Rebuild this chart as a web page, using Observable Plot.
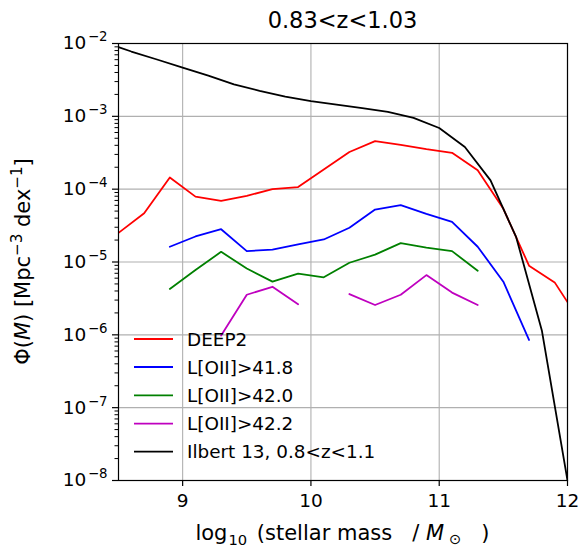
<!DOCTYPE html>
<html><head><meta charset="utf-8">
<script src="https://cdn.jsdelivr.net/npm/d3@7"></script>
<script src="https://cdn.jsdelivr.net/npm/@observablehq/plot@0.6"></script>
<style>body{margin:0;background:#fff}</style>
</head><body><div id="chart"></div>
<script>
// ---- data ----
const deepX = [8.5, 8.7, 8.9, 9.1, 9.3, 9.5, 9.7, 9.9, 10.1, 10.3, 10.5, 10.7, 10.9, 11.1, 11.3, 11.5, 11.7, 11.9, 12.0];
const deepY = [2.51e-5, 4.68e-5, 1.45e-4, 7.9e-5, 6.9e-5, 8.1e-5, 1.0e-4, 1.07e-4, 1.86e-4, 3.24e-4, 4.57e-4, 4.07e-4, 3.55e-4, 3.16e-4, 1.82e-4, 5.37e-5, 8.9e-6, 5.25e-6, 2.82e-6];

const l418X = [8.9, 9.1, 9.3, 9.5, 9.7, 9.9, 10.1, 10.3, 10.5, 10.7, 10.9, 11.1, 11.3, 11.5, 11.7];
const l418Y = [1.62e-5, 2.24e-5, 2.82e-5, 1.41e-5, 1.48e-5, 1.74e-5, 2.04e-5, 2.95e-5, 5.25e-5, 6.03e-5, 4.57e-5, 3.55e-5, 1.62e-5, 5.37e-6, 8.5e-7];

const l420X = [8.9, 9.1, 9.3, 9.5, 9.7, 9.9, 10.1, 10.3, 10.5, 10.7, 10.9, 11.1, 11.3];
const l420Y = [4.27e-6, 7.76e-6, 1.38e-5, 8.13e-6, 5.37e-6, 6.92e-6, 6.17e-6, 9.77e-6, 1.26e-5, 1.82e-5, 1.58e-5, 1.41e-5, 7.59e-6];

const l422X = [9.3, 9.5, 9.7, 9.9, 10.1, 10.3, 10.5, 10.7, 10.9, 11.1, 11.3];
const l422Y = [9.8e-7, 3.55e-6, 4.57e-6, 2.63e-6, NaN, 3.63e-6, 2.57e-6, 3.55e-6, 6.61e-6, 3.80e-6, 2.57e-6];

const ilbX = [8.5, 8.6, 8.8, 9.0, 9.2, 9.4, 9.6, 9.8, 10.0, 10.2, 10.4, 10.6, 10.8, 11.0, 11.2, 11.4, 11.6, 11.8, 12.0];
const ilbY = [8.91e-3, 7.76e-3, 6.03e-3, 4.68e-3, 3.63e-3, 2.75e-3, 2.24e-3, 1.86e-3, 1.62e-3, 1.45e-3, 1.30e-3, 1.15e-3, 9.55e-4, 6.92e-4, 3.80e-4, 1.32e-4, 2.19e-5, 1.15e-6, 1.0e-8];

const seriesNames = ["DEEP2", "L[OII]>41.8", "L[OII]>42.0", "L[OII]>42.2", "Ilbert 13, 0.8<z<1.1"];
const seriesColors = ["#ff0000", "#0000ff", "#008000", "#bf00bf", "#000000"];

const xTicks = [9, 10, 11, 12];
const yTicks = [1e-8, 1e-7, 1e-6, 1e-5, 1e-4, 1e-3, 1e-2];
const yMinor = [];
for (let e = -8; e < -2; e++) for (let m = 2; m <= 9; m++) yMinor.push(m * Math.pow(10, e));

const titleText = "0.83<z<1.03";

// ---- build ----
const series = [[deepX, deepY], [l418X, l418Y], [l420X, l420Y], [l422X, l422Y], [ilbX, ilbY]];
const toRows = (xs, ys) => xs.map((x, i) => ({x, y: ys[i]}));

const font = "DejaVu Sans, Verdana, sans-serif";
const tickFont = 18.5, labelFont = 21, legendFont = 18.4, titleFont = 22.5;
const chart = Plot.plot({
  width: 579, height: 549,
  marginLeft: 118, marginRight: 12, marginTop: 43, marginBottom: 69,
  style: {fontFamily: font, fontSize: tickFont + "px", color: "#000", background: "#fff", overflow: "visible"},
  x: {domain: [8.5, 12]},
  y: {type: "log", domain: [1e-8, 1e-2]},
  marks: [
    Plot.gridX(xTicks, {stroke: "#b0b0b0", strokeOpacity: 1, strokeWidth: 1.1}),
    Plot.gridY(yTicks, {stroke: "#b0b0b0", strokeOpacity: 1, strokeWidth: 1.1}),
    ...series.map(([xs, ys], i) => Plot.line(toRows(xs, ys), {
      x: "x", y: "y", stroke: seriesColors[i], strokeWidth: 1.8, clip: true
    })),
    Plot.frame({stroke: "#000", strokeWidth: 1.2}),
    Plot.axisX(xTicks, {tickSize: 6, tickPadding: 7, label: null, fontSize: tickFont, tickFormat: d => String(d), strokeWidth: 1.2}),
    Plot.axisY(yTicks, {tickSize: 6, tickPadding: 5, label: null, fontSize: tickFont, tickFormat: d => String(Math.round(Math.log10(d))), strokeWidth: 1.2}),
    Plot.axisY(yMinor, {tickSize: 3.5, label: null, tickFormat: () => "", strokeWidth: 1})
  ]
});
document.getElementById("chart").append(chart);

const svg = d3.select(chart);
// superscripted y tick labels (major only; drop empty minor labels)
svg.selectAll('g[aria-label="y-axis tick label"] text').each(function() {
  const t = d3.select(this);
  const e = t.text();
  if (!e) { t.remove(); return; }
  t.text("");
  t.append("tspan").text("10");
  t.append("tspan").attr("font-size", "72%").attr("dx", 1.5).attr("dy", "-0.6em").text(e.replace("-", "\u2212"));
});

// title
svg.append("text").attr("x", 342.5).attr("y", 28).attr("text-anchor", "middle")
  .attr("font-family", font).attr("font-size", titleFont).attr("fill", "#000").text(titleText);

// x label
const xl = svg.append("text").attr("x", 342.5).attr("y", 540).attr("text-anchor", "middle")
  .attr("font-family", font).attr("font-size", labelFont).attr("fill", "#000");
xl.append("tspan").text("log");
xl.append("tspan").attr("font-size", "70%").attr("dx", 1).attr("dy", "0.35em").text("10");
xl.append("tspan").attr("dx", 3).attr("dy", "-0.25em").text("\u00a0(stellar mass \u00a0\u00a0/ ");
xl.append("tspan").attr("font-style", "italic").text("M");
xl.append("tspan").attr("font-size", "70%").attr("dx", 2).attr("dy", "0.3em").text("\u2009\u2299");
xl.append("tspan").attr("dy", "-0.2em").text("\u00a0\u00a0\u00a0)");

// y label
const yl = svg.append("text").attr("transform", "translate(30,261.5) rotate(-90)").attr("text-anchor", "middle")
  .attr("font-family", font).attr("font-size", labelFont).attr("fill", "#000");
yl.append("tspan").text("\u03a6(");
yl.append("tspan").attr("font-style", "italic").text("M");
yl.append("tspan").text(") [Mpc");
yl.append("tspan").attr("font-size", "72%").attr("dy", "-0.55em").text("\u22123");
yl.append("tspan").attr("dy", "0.396em").text(" dex");
yl.append("tspan").attr("font-size", "72%").attr("dy", "-0.55em").text("\u22121");
yl.append("tspan").attr("dy", "0.396em").text("]");

// legend
const legY = [339, 367, 395.3, 423.7, 451.7];
seriesNames.forEach((name, i) => {
  svg.append("line").attr("x1", 134).attr("x2", 173).attr("y1", legY[i]).attr("y2", legY[i])
    .attr("stroke", seriesColors[i]).attr("stroke-width", 1.8);
  svg.append("text").attr("x", 187).attr("y", legY[i]).attr("dy", "0.36em").attr("text-anchor", "start")
    .attr("font-family", font).attr("font-size", legendFont).attr("fill", "#000").text(name);
});
</script>
</body></html>
